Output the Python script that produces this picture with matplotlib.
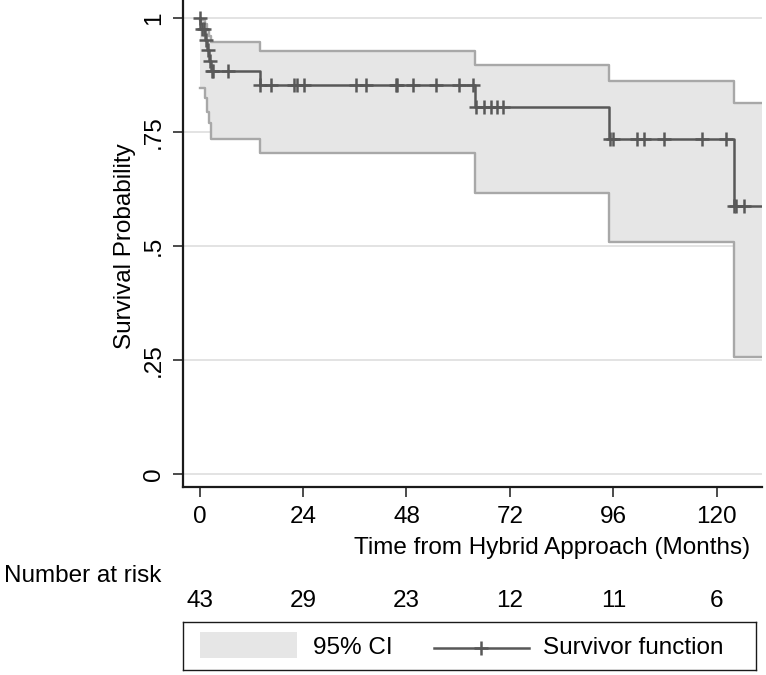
import matplotlib
matplotlib.use("Agg")
import matplotlib.pyplot as plt
import numpy as np
from matplotlib.patches import Rectangle
from matplotlib.lines import Line2D
from matplotlib.transforms import blended_transform_factory

plt.rcParams['font.family'] = ['Liberation Sans', 'DejaVu Sans']

# ---- data ----
event_times = [0.0, 0.1, 1.2, 1.7, 2.1, 2.7, 14.1, 64.0, 95.1, 123.9, 130.5]
surv = [1.0, 0.977, 0.953, 0.930, 0.907, 0.884, 0.853, 0.806, 0.735, 0.588, 0.588]

ci_times = [0.1, 1.2, 1.7, 2.1, 2.7, 14.1, 64.0, 95.1, 123.9, 130.5]
ci_lower = [0.846, 0.824, 0.795, 0.769, 0.734, 0.704, 0.616, 0.508, 0.256, 0.256]
ci_upper = [0.997, 0.988, 0.975, 0.960, 0.948, 0.928, 0.898, 0.862, 0.814, 0.814]

censor_times = [0.0, 0.6, 1.0, 1.4, 1.9, 2.4, 2.8, 3.0, 6.6,
                14.1, 16.6, 21.9, 22.6, 24.2, 36.4, 38.5, 45.5, 45.9, 49.6,
                54.9, 60.1, 63.5, 64.1, 65.9, 67.6, 69.0, 70.4,
                95.2, 95.9, 101.6, 103.2, 107.7, 116.6, 122.2,
                124.0, 124.5, 126.4]

xticks = [0, 24, 48, 72, 96, 120]
yticks = [0, 0.25, 0.5, 0.75, 1]
ytick_labels = ['0', '.25', '.5', '.75', '1']
at_risk = [43, 29, 23, 12, 11, 6]

# survival at censor times via step lookup
et = np.array(event_times)
sv = np.array(surv)
idx = np.searchsorted(et, np.array(censor_times), side='right') - 1
censor_surv = sv[idx]

W, H = 766, 675
FS = 17.5
fig = plt.figure(figsize=(W / 100, H / 100), dpi=100)
ax = fig.add_axes([183 / W, 1 - 487 / H, 579 / W, 487 / H])

line_col = '#585858'
ci_edge = '#a8a8a8'
ci_fill = '#e6e6e6'
grid_col = '#e0e0e0'

for y in yticks:
    ax.axhline(y, color=grid_col, lw=1.3, zorder=0)

ax.fill_between(ci_times, ci_lower, ci_upper, step='post', color=ci_fill,
                lw=0, zorder=1)
ax.step(ci_times, ci_lower, where='post', color=ci_edge, lw=1.7, zorder=2)
ax.step(ci_times, ci_upper, where='post', color=ci_edge, lw=1.7, zorder=2)

ax.step(event_times, surv, where='post', color=line_col, lw=1.8, zorder=3)
ax.plot(censor_times, censor_surv, ls='none', marker='+', ms=10, mew=1.8,
        color=line_col, zorder=4)

ax.set_xlim(-3.85, 130.5)
ax.set_ylim(-0.029, 1.040)
ax.set_xticks(xticks)
ax.set_xticklabels([str(t) for t in xticks])
ax.set_yticks(yticks)
ax.set_yticklabels(ytick_labels, rotation=90, va='center')

for s in ['top', 'right']:
    ax.spines[s].set_visible(False)
for s in ['left', 'bottom']:
    ax.spines[s].set_linewidth(1.6)
    ax.spines[s].set_color('#1a1a1a')
ax.tick_params(axis='both', length=7, width=1.1, color='#1a1a1a',
               labelsize=FS)
ax.tick_params(axis='x', pad=7)
ax.tick_params(axis='y', pad=6)

fig.text(125 / W, 1 - 246 / H, 'Survival Probability', rotation=90,
         ha='center', va='center', fontsize=FS)
fig.text(750 / W, 1 - 548 / H, 'Time from Hybrid Approach (Months)',
         ha='right', va='center', fontsize=FS)
fig.text(4 / W, 1 - 576 / H, 'Number at risk', ha='left', va='center',
         fontsize=FS)

tr = blended_transform_factory(ax.transData, fig.transFigure)
for t, n in zip(xticks, at_risk):
    ax.text(t, 1 - 601 / H, str(n), transform=tr, ha='center', va='center',
            fontsize=FS, clip_on=False)

# legend
lw_, lh_ = 573, 48.3
lax = fig.add_axes([183 / W, 1 - 670 / H, lw_ / W, lh_ / H])
lax.set_xlim(0, lw_)
lax.set_ylim(lh_, 0)
lax.set_xticks([])
lax.set_yticks([])
for s in lax.spines.values():
    s.set_linewidth(1.0)
    s.set_color('#1a1a1a')
lax.add_patch(Rectangle((17, 10), 97, 26.6, color=ci_fill, lw=0))
lax.text(129.6, 26.3, '95% CI', ha='left', va='center', fontsize=FS)
lax.add_line(Line2D([251, 345.6], [26.3, 26.3], color=line_col, lw=1.8))
lax.plot([298], [26.3], marker='+', ms=10, mew=1.8, color=line_col)
lax.text(360, 26.3, 'Survivor function', ha='left', va='center', fontsize=FS)

fig.savefig('out.png', dpi=100)
